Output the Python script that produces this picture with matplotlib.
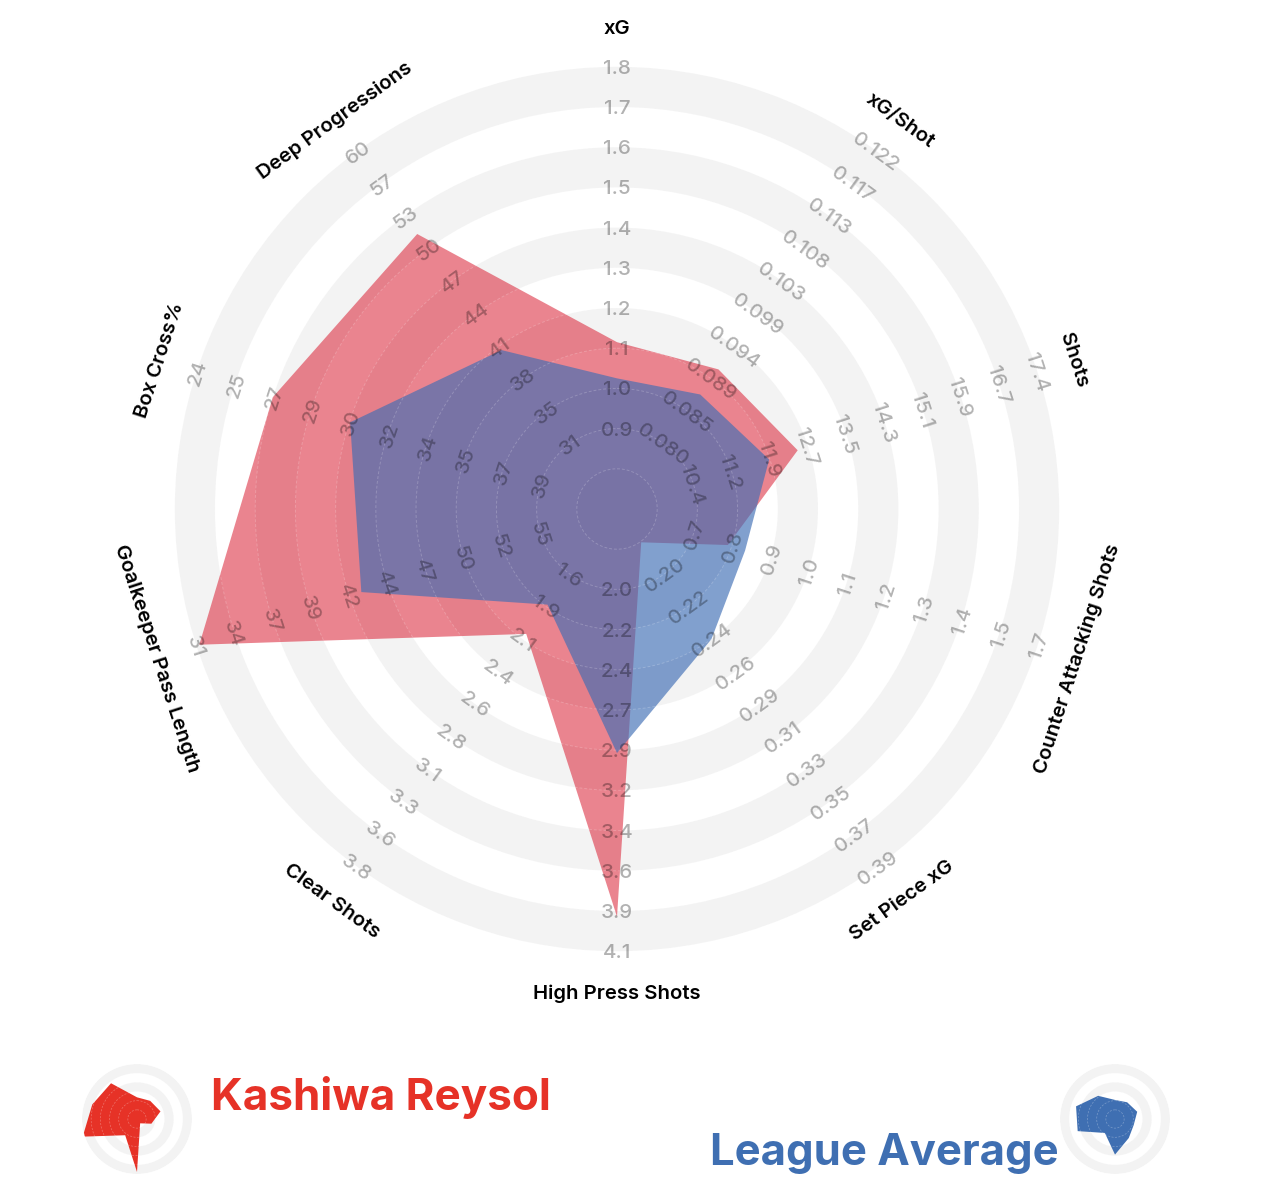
import numpy as np
import matplotlib
matplotlib.use("Agg")
import matplotlib.pyplot as plt

W, H = 1278, 1194
CX, CY = 617, 509
RING_PX = 40.2
FONT = ["Inter", "DejaVu Sans"]

metrics = ["xG", "xG/Shot", "Shots", "Counter Attacking Shots", "Set Piece xG",
           "High Press Shots", "Clear Shots", "Goalkeeper Pass Length", "Box Cross%",
           "Deep Progressions"]

tick_xg = ["0.9", "1.0", "1.1", "1.2", "1.3", "1.4", "1.5", "1.6", "1.7", "1.8"]
tick_xgshot = ["0.080", "0.085", "0.089", "0.094", "0.099", "0.103", "0.108", "0.113", "0.117", "0.122"]
tick_shots = ["10.4", "11.2", "11.9", "12.7", "13.5", "14.3", "15.1", "15.9", "16.7", "17.4"]
tick_counter = ["0.7", "0.8", "0.9", "1.0", "1.1", "1.2", "1.3", "1.4", "1.5", "1.7"]
tick_setpiece = ["0.20", "0.22", "0.24", "0.26", "0.29", "0.31", "0.33", "0.35", "0.37", "0.39"]
tick_press = ["2.0", "2.2", "2.4", "2.7", "2.9", "3.2", "3.4", "3.6", "3.9", "4.1"]
tick_clear = ["1.6", "1.9", "2.1", "2.4", "2.6", "2.8", "3.1", "3.3", "3.6", "3.8"]
tick_gk = ["55", "52", "50", "47", "44", "42", "39", "37", "34", "31"]
tick_box = ["39", "37", "35", "34", "32", "30", "29", "27", "25", "24"]
tick_deep = ["31", "35", "38", "41", "44", "47", "50", "53", "57", "60"]
tick_labels = [tick_xg, tick_xgshot, tick_shots, tick_counter, tick_setpiece,
               tick_press, tick_clear, tick_gk, tick_box, tick_deep]

kashiwa = [1.115, 0.0907, 12.52, 0.80, 0.1794, 3.90, 2.05, 31.2, 27.33, 51.8]
league = [1.025, 0.0871, 11.94, 0.85, 0.2422, 2.95, 1.83, 42.5, 30.7, 40.3]

RED = "#DC2B3E"
RED_SOLID = "#E63227"
BLUE = "#3E6DB5"
BLUE_SOLID = "#3F6FB2"
BAND = "#F3F3F3"

n = len(metrics)
angles = np.deg2rad(np.arange(n) * 36.0)


def to_rings(values):
    """Map each spoke's value to ring units: first tick on ring 2, last on ring 11."""
    out = []
    for v, ticks in zip(values, tick_labels):
        lo, hi = float(ticks[0]), float(ticks[-1])
        out.append(2 + 9 * (v - lo) / (hi - lo))
    return np.array(out)


def text_rotation(deg):
    if deg < 90:
        return -deg
    if deg <= 270:
        return 180 - deg
    return 360 - deg


def polar_axes(fig, cx, cy, radius_px, rmax):
    ax = fig.add_axes([(cx - radius_px) / W, 1 - (cy + radius_px) / H,
                       2 * radius_px / W, 2 * radius_px / H], projection="polar")
    ax.set_theta_zero_location("N")
    ax.set_theta_direction(-1)
    ax.set_ylim(0, rmax)
    ax.axis("off")
    return ax


def draw_bands(ax, total):
    for k in range(total - 1, -1, -2):
        ax.bar(0, 1, width=2 * np.pi, bottom=k, color=BAND, linewidth=0, zorder=1)


def draw_rings(ax, total, alpha, lw):
    th = np.linspace(0, 2 * np.pi, 361)
    for k in range(1, total + 1):
        ax.plot(th, np.full_like(th, k), color="white", alpha=alpha, lw=lw,
                ls=(0, (3, 2)), zorder=5)


fig = plt.figure(figsize=(W / 100, H / 100), dpi=100, facecolor="white")

# main radar
ax = polar_axes(fig, CX, CY, 500, 500 / RING_PX)
draw_bands(ax, 11)
ax.fill(angles, to_rings(kashiwa), color=RED, alpha=0.58, lw=0, zorder=3)
ax.fill(angles, to_rings(league), color=BLUE, alpha=0.65, lw=0, zorder=4)
draw_rings(ax, 11, 0.2, 0.7)

for a, name, ticks in zip(angles, metrics, tick_labels):
    rot = text_rotation(np.rad2deg(a))
    for k, t in enumerate(ticks, start=2):
        ax.text(a, k, t, rotation=rot, rotation_mode="anchor", ha="center",
                va="center_baseline", fontsize=14.8, color="black", alpha=0.3,
                fontweight="medium", family=FONT, zorder=6)
    ax.text(a, 12.0, name, rotation=rot, rotation_mode="anchor", ha="center",
            va="center_baseline", fontsize=14.6, color="black", fontweight="semibold",
            family=FONT, zorder=6)


# legend icons
def icon(cx, cy, values, color, scale):
    iax = polar_axes(fig, cx, cy, 55, 6)
    draw_bands(iax, 6)
    iax.fill(angles, to_rings(values) * scale, color=color, lw=0, zorder=3)
    draw_rings(iax, 6, 0.3, 0.5)


icon(137, 1119, kashiwa, RED_SOLID, 0.57)
icon(1115, 1119, league, BLUE_SOLID, 0.64)

fig.text(211 / W, 1 - 1110 / H, "Kashiwa Reysol", color=RED_SOLID, fontsize=31.7,
         fontweight="bold", family=FONT, ha="left", va="baseline")
fig.text(710 / W, 1 - 1165 / H, "League Average", color=BLUE_SOLID, fontsize=31.4,
         fontweight="bold", family=FONT, ha="left", va="baseline")

fig.savefig("out.png", dpi=100, facecolor="white")
